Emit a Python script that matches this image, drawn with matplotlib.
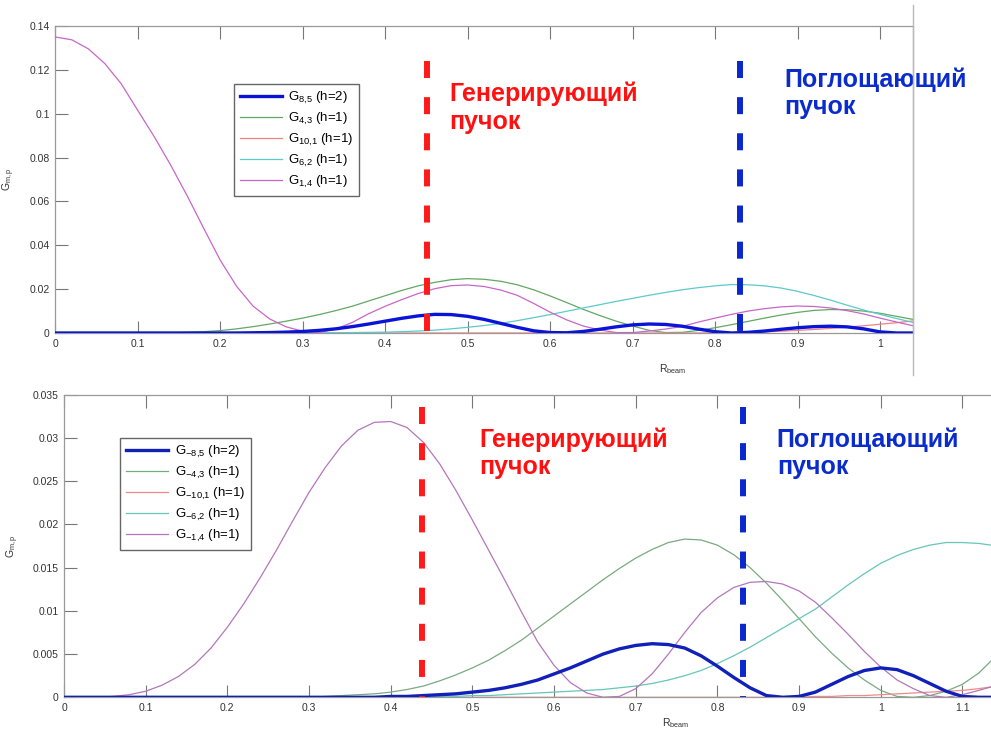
import numpy as np
import matplotlib.pyplot as plt
from matplotlib.lines import Line2D

plt.rcParams['font.family'] = ['Liberation Sans', 'DejaVu Sans']
plt.rcParams['mathtext.default'] = 'regular'

# R_beam sampling grids
r_top = np.linspace(0, 1.04, 53)
r_bot = np.append(np.linspace(0, 1.12, 57), 1.135)

# upper panel: G_m,p
g85_top = [0.0] * 12 + [0.0001, 0.0002, 0.0004, 0.0007, 0.0012, 0.0019, 0.0029, 0.0041, 0.0054, 0.0067,
                        0.0078, 0.0085, 0.0084, 0.0076, 0.0062, 0.0044, 0.0026, 0.0010, 0.0002, 0.0001,
                        0.0007, 0.0017, 0.0028, 0.0037, 0.0041, 0.0039, 0.0031, 0.0018, 0.0006, 0.0000,
                        0.0003, 0.0009, 0.0017, 0.0024, 0.0029, 0.0031, 0.0028, 0.0019, 0.0005, 0.0000, 0.0000]
g43_top = [0.0] * 7 + [0.0001, 0.0003, 0.0006, 0.0011, 0.0019, 0.0029, 0.0041, 0.0054, 0.0068, 0.0084,
                       0.0102, 0.0122, 0.0146, 0.0170, 0.0194, 0.0215, 0.0231, 0.0243, 0.0248, 0.0245,
                       0.0236, 0.0220, 0.0197, 0.0169, 0.0139, 0.0108, 0.0080, 0.0054, 0.0032, 0.0012,
                       0.0002, 0.0003, 0.0012, 0.0024, 0.0038, 0.0053, 0.0068, 0.0082, 0.0094, 0.0103,
                       0.0107, 0.0106, 0.0100, 0.0090, 0.0076, 0.0062]
g101_top = [0.0] * 40 + [0.0001, 0.0001, 0.0003, 0.0005, 0.0008, 0.0012, 0.0016, 0.0021, 0.0027, 0.0033,
                         0.0040, 0.0047, 0.0055]
g62_top = [0.0] * 16 + [0.0001, 0.0001, 0.0002, 0.0003, 0.0004, 0.0006, 0.0009, 0.0013, 0.0019, 0.0026,
                        0.0034, 0.0044, 0.0056, 0.0070, 0.0084, 0.0099, 0.0114, 0.0129, 0.0144, 0.0158,
                        0.0172, 0.0185, 0.0197, 0.0207, 0.0215, 0.0221, 0.0220, 0.0215, 0.0205, 0.0190,
                        0.0171, 0.0150, 0.0127, 0.0105, 0.0085, 0.0066, 0.0048]
g14_top = [0.1350, 0.1337, 0.1296, 0.1229, 0.1136, 0.1015, 0.0895, 0.0765, 0.0625, 0.0477,
           0.0332, 0.0212, 0.0122, 0.0064, 0.0028, 0.0008, 0.0002, 0.0018, 0.0048, 0.0088,
           0.0122, 0.0152, 0.0180, 0.0202, 0.0216, 0.0219, 0.0212, 0.0196, 0.0172, 0.0135,
           0.0095, 0.0060, 0.0032, 0.0014, 0.0002, 0.0002, 0.0009, 0.0018, 0.0030, 0.0050,
           0.0068, 0.0085, 0.0100, 0.0111, 0.0119, 0.0123, 0.0121, 0.0114, 0.0102, 0.0087,
           0.0068, 0.0050, 0.0033]

# lower panel
g85_bot = [0.0] * 20 + [0.0001, 0.0001, 0.0002, 0.0003, 0.0004, 0.0006, 0.0008, 0.0011, 0.0015, 0.0020,
                        0.0027, 0.0034, 0.0042, 0.0050, 0.0056, 0.0060, 0.0062, 0.0061, 0.0057, 0.0048,
                        0.0036, 0.0023, 0.0011, 0.0002, 0.0000, 0.0001, 0.0006, 0.0015, 0.0024, 0.0031,
                        0.0034, 0.0032, 0.0025, 0.0016, 0.0007, 0.0001, 0.0000, 0.0000]
g43_bot = [0.0] * 16 + [0.0001, 0.0002, 0.0003, 0.0004, 0.0006, 0.0009, 0.0013, 0.0019, 0.0026, 0.0034,
                        0.0043, 0.0054, 0.0066, 0.0080, 0.0094, 0.0108, 0.0122, 0.0136, 0.0149, 0.0161,
                        0.0171, 0.0179, 0.0183, 0.0182, 0.0176, 0.0165, 0.0150, 0.0132, 0.0112, 0.0091,
                        0.0070, 0.0051, 0.0034, 0.0020, 0.0008, 0.0001, 0.0000, 0.0002, 0.0007, 0.0015,
                        0.0028, 0.0042]
g101_bot = [0.0] * 46 + [0.0001, 0.0001, 0.0002, 0.0002, 0.0003, 0.0004, 0.0005, 0.0006, 0.0007, 0.0008,
                         0.0010, 0.0012]
g62_bot = [0.0] * 23 + [0.0001, 0.0001, 0.0002, 0.0002, 0.0003, 0.0004, 0.0005, 0.0006, 0.0007, 0.0008,
                        0.0009, 0.0011, 0.0013, 0.0016, 0.0020, 0.0025, 0.0031, 0.0039, 0.0048, 0.0058,
                        0.0069, 0.0080, 0.0091, 0.0102, 0.0116, 0.0130, 0.0143, 0.0155, 0.0164, 0.0171,
                        0.0176, 0.0179, 0.0179, 0.0178, 0.0176]
g14_bot = [0.0, 0.0, 0.0, 0.0001, 0.0003, 0.0007, 0.0014, 0.0024, 0.0038, 0.0057,
           0.0081, 0.0108, 0.0138, 0.0170, 0.0204, 0.0237, 0.0266, 0.0291, 0.0309, 0.0318,
           0.0319, 0.0312, 0.0295, 0.0270, 0.0239, 0.0205, 0.0170, 0.0135, 0.0099, 0.0064,
           0.0037, 0.0017, 0.0005, 0.0000, 0.0001, 0.0010, 0.0027, 0.0050, 0.0075, 0.0098,
           0.0115, 0.0127, 0.0133, 0.0134, 0.0131, 0.0123, 0.0110, 0.0092, 0.0073, 0.0053,
           0.0035, 0.0020, 0.0010, 0.0002, 0.0000, 0.0003, 0.0008, 0.0012]

labels_top = [r'G$_{8{,}5}$ (h=2)', r'G$_{4{,}3}$ (h=1)', r'G$_{10{,}1}$ (h=1)',
              r'G$_{6{,}2}$ (h=1)', r'G$_{1{,}4}$ (h=1)']
labels_bot = [r'G$_{-8{,}5}$ (h=2)', r'G$_{-4{,}3}$ (h=1)', r'G$_{-10{,}1}$ (h=1)',
              r'G$_{-6{,}2}$ (h=1)', r'G$_{-1{,}4}$ (h=1)']

# beam positions (vertical dashed markers)
gen_top, abs_top, marker_h_top = 0.451, 0.830, 0.124
gen_bot, abs_bot, marker_h_bot = 0.438, 0.831, 0.0336

xt_top = [0, 0.1, 0.2, 0.3, 0.4, 0.5, 0.6, 0.7, 0.8, 0.9, 1.0]
xt_bot = xt_top + [1.1]
xl_top = ['0', '0.1', '0.2', '0.3', '0.4', '0.5', '0.6', '0.7', '0.8', '0.9', '1']
xl_bot = xl_top + ['1.1']
yt_top = [0, 0.02, 0.04, 0.06, 0.08, 0.1, 0.12, 0.14]
yl_top = ['0', '0.02', '0.04', '0.06', '0.08', '0.1', '0.12', '0.14']
yt_bot = [0, 0.005, 0.01, 0.015, 0.02, 0.025, 0.03, 0.035]
yl_bot = ['0', '0.005', '0.01', '0.015', '0.02', '0.025', '0.03', '0.035']

W, H = 991, 729
fig = plt.figure(figsize=(W / 100, H / 100), dpi=100)
ax1 = fig.add_axes([55.3 / W, (H - 333) / H, 857.7 / W, 307 / H])
ax2 = fig.add_axes([64 / W, (H - 697.3) / H, 927 / W, 302.6 / H])

cols_top = ['#0a14d6', '#62a862', '#f08282', '#5ccaca', '#c866c8']
cols_bot = ['#1020b8', '#7aaa80', '#f08a8a', '#66c6b8', '#b476bc']


def draw(ax, r, series, labels, cols):
    for i, (g, lab, c) in enumerate(zip(series, labels, cols)):
        lw = 2.4 if i == 0 else 0.9
        ax.plot(r, g, color=c, lw=lw, label=lab, zorder=4 if i == 0 else 3)


def style(ax, xmax, ymax, xt, xl, yt, yl):
    ax.set_xlim(0, xmax)
    ax.set_ylim(0, ymax)
    ax.set_xticks(xt)
    ax.set_xticklabels(xl)
    ax.set_yticks(yt)
    ax.set_yticklabels(yl)
    ax.tick_params(direction='in', length=9, width=0.8, top=True, right=False,
                   labelsize=7.5, color='#777777', labelcolor='#333333', pad=4)
    for s in ax.spines.values():
        s.set_color('#999999')
        s.set_linewidth(0.9)


draw(ax1, r_top, [g85_top, g43_top, g101_top, g62_top, g14_top], labels_top, cols_top)
draw(ax2, r_bot, [g85_bot, g43_bot, g101_bot, g62_bot, g14_bot], labels_bot, cols_bot)

style(ax1, 1.04, 0.14, xt_top, xl_top, yt_top, yl_top)
style(ax2, 1.135, 0.035, xt_bot, xl_bot, yt_bot, yl_bot)
ax2.spines['right'].set_visible(False)

for ax, xg, xa, h in [(ax1, gen_top, abs_top, marker_h_top), (ax2, gen_bot, abs_bot, marker_h_bot)]:
    ax.plot([xg, xg], [h, 0], color='#ff1a1a', lw=4.3, dashes=(2.85, 3.2), zorder=5)
    ax.plot([xa, xa], [h, 0], color='#0a28cc', lw=4.3, dashes=(2.85, 3.2), zorder=5)

ax1.text(0.459, 0.818, 'Генерирующий\nпучок', transform=ax1.transAxes, color='#ff1111',
         fontsize=18, fontweight='bold', va='top', ha='left')
ax1.text(0.850, 0.866, 'Поглощающий\nпучок', transform=ax1.transAxes, color='#0a2ccc',
         fontsize=18, fontweight='bold', va='top', ha='left')
ax2.text(0.448, 0.893, 'Генерирующий\nпучок', transform=ax2.transAxes, color='#ff1111',
         fontsize=18, fontweight='bold', va='top', ha='left')
ax2.text(0.769, 0.893, 'Поглощающий\nпучок', transform=ax2.transAxes, color='#0a2ccc',
         fontsize=18, fontweight='bold', va='top', ha='left')

for ax, anchor in [(ax1, (0.208, 0.811)), (ax2, (0.0604, 0.857))]:
    leg = ax.legend(loc='upper left', bbox_to_anchor=anchor, borderaxespad=0, fontsize=9.5,
                    fancybox=False, edgecolor='#666666', framealpha=1, handlelength=3.2,
                    labelspacing=0.38, borderpad=0.45, handletextpad=0.5)
    leg.get_frame().set_linewidth(1.0)

ax1.set_xlabel('R$_{beam}$', fontsize=7.5, color='#333333')
ax1.xaxis.set_label_coords(0.72, -0.095)
ax2.set_xlabel('R$_{beam}$', fontsize=7.5, color='#333333')
ax2.xaxis.set_label_coords(0.66, -0.062)
ax1.set_ylabel('G$_{m,p}$', fontsize=7.5, color='#333333')
ax1.yaxis.set_label_coords(-0.045, 0.5)
ax2.set_ylabel('G$_{m,p}$', fontsize=7.5, color='#333333')
ax2.yaxis.set_label_coords(-0.046, 0.5)

# border line of the screenshot on the right of the upper plot
fig.add_artist(Line2D([913 / W, 913 / W], [(H - 375) / H, (H - 5) / H], color='#bbbbbb', lw=1.0))

fig.savefig('out.png', dpi=100)
